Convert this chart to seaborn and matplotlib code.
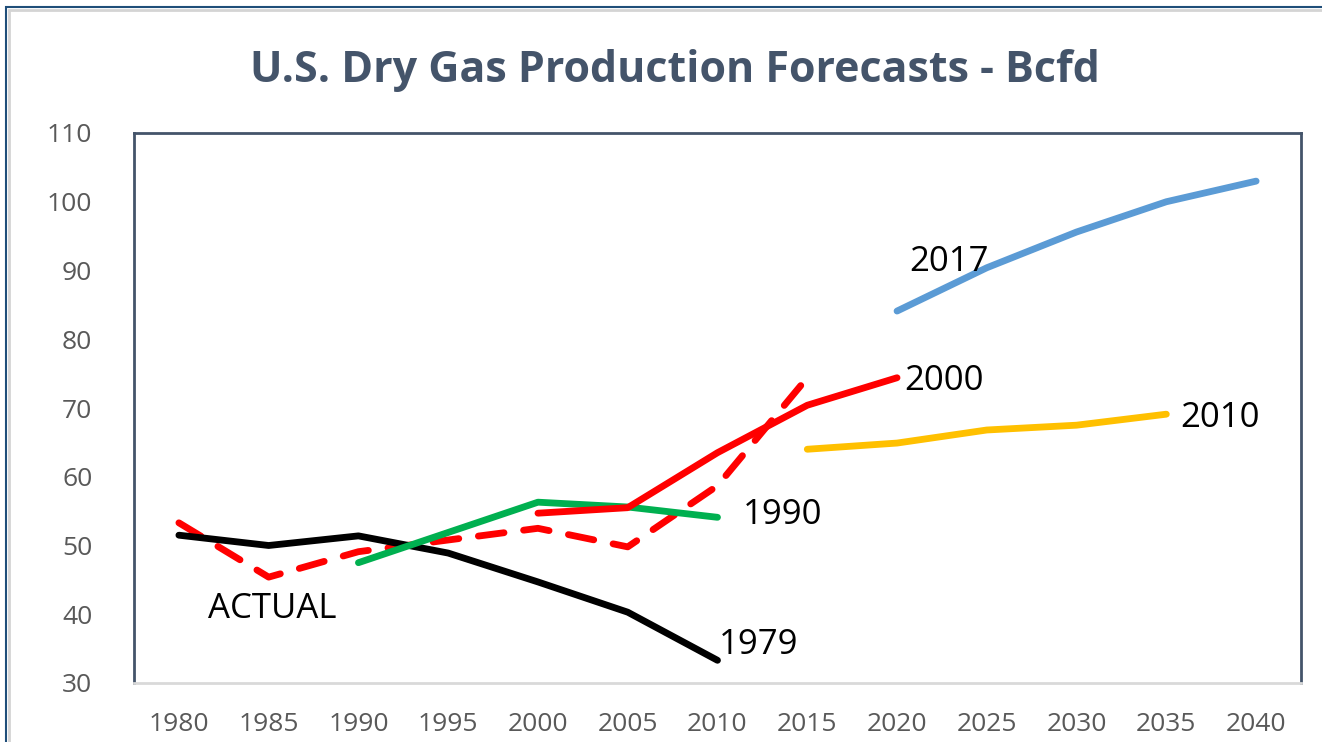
import numpy as np
import pandas as pd
import matplotlib
matplotlib.use('Agg')
import matplotlib.pyplot as plt
from matplotlib.patches import Rectangle
import seaborn as sns

# ==================== data ====================
years_actual = [1980, 1985, 1990, 1995, 2000, 2005, 2010, 2015]
vals_actual = [53.3, 45.4, 49.1, 50.8, 52.5, 49.8, 58.7, 74.4]

years_1979 = [1980, 1985, 1990, 1995, 2000, 2005, 2010]
vals_1979 = [51.5, 50.0, 51.4, 48.9, 44.7, 40.3, 33.3]

years_1990 = [1990, 2000, 2005, 2010]
vals_1990 = [47.5, 56.3, 55.6, 54.1]

years_2000 = [2000, 2005, 2010, 2015, 2020]
vals_2000 = [54.7, 55.5, 63.5, 70.4, 74.4]

years_2010 = [2015, 2020, 2025, 2030, 2035]
vals_2010 = [64.0, 64.9, 66.8, 67.5, 69.1]

years_2017 = [2020, 2025, 2030, 2035, 2040]
vals_2017 = [84.1, 90.4, 95.6, 100.0, 103.0]

x_ticks = list(range(1980, 2041, 5))
y_ticks = list(range(30, 111, 10))

series = {
    'ACTUAL': (years_actual, vals_actual),
    '1979': (years_1979, vals_1979),
    '1990': (years_1990, vals_1990),
    '2000': (years_2000, vals_2000),
    '2010': (years_2010, vals_2010),
    '2017': (years_2017, vals_2017),
}
df = pd.concat([pd.DataFrame({'year': yrs, 'bcfd': v, 'series': name})
                for name, (yrs, v) in series.items()], ignore_index=True)

palette = {'ACTUAL': '#FF0000', '1979': '#000000', '1990': '#00B050',
           '2000': '#FF0000', '2010': '#FFC000', '2017': '#5B9BD5'}
dashes = {'ACTUAL': (3.8, 2.9), '1979': '', '1990': '', '2000': '',
          '2010': '', '2017': ''}

# ==================== plot ====================
sns.set_theme(style='white')
plt.rcParams['font.family'] = ['Open Sans', 'DejaVu Sans']

fig = plt.figure(figsize=(13.22, 7.42), dpi=100)
ax = fig.add_axes([134 / 1322, 1 - 683 / 742, (1301 - 134) / 1322, (683 - 133) / 742])

sns.lineplot(data=df, x='year', y='bcfd', hue='series', style='series',
             palette=palette, dashes=dashes, linewidth=4.9, legend=False,
             sort=False, ax=ax)
for ln in ax.lines:
    ln.set_solid_capstyle('round')
    ln.set_dash_capstyle('round')
    ln.set_solid_joinstyle('round')

ax.set_xlim(1977.5, 2042.5)
ax.set_ylim(30, 110)
ax.set_xticks(x_ticks)
ax.set_yticks(y_ticks)
ax.set_xlabel('')
ax.set_ylabel('')
ax.tick_params(axis='both', length=0, labelsize=19, colors='#595959')
ax.tick_params(axis='y', pad=30)
ax.tick_params(axis='x', pad=21)

for side in ['left', 'top', 'right']:
    ax.spines[side].set_color('#44546A')
    ax.spines[side].set_linewidth(2)
ax.spines['bottom'].set_color('#D9D9D9')
ax.spines['bottom'].set_linewidth(2)

# line labels
lbl = dict(fontsize=25, color='black', va='center', ha='left')
ax.text(2020.7, 91.3, '2017', **lbl)
ax.text(2020.4, 74.0, '2000', **lbl)
ax.text(2035.8, 68.5, '2010', **lbl)
ax.text(2011.4, 54.4, '1990', **lbl)
ax.text(2010.1, 35.5, '1979', **lbl)
ax.text(1981.6, 40.7, 'ACTUAL', **lbl)

fig.text(675 / 1322, 1 - 71 / 742, 'U.S. Dry Gas Production Forecasts - Bcfd',
         ha='center', va='center', fontsize=31, fontweight='bold', color='#44546A')

# outer chart frame
fig.add_artist(Rectangle((6 / 1322, -0.1), 1.2, 1.1 - 7.5 / 742, transform=fig.transFigure,
                         fill=False, edgecolor='#1F4E79', linewidth=1.5))
fig.add_artist(Rectangle((8.5 / 1322, -0.1), 1.2, 1.1 - 10 / 742, transform=fig.transFigure,
                         fill=False, edgecolor='#D4D4D4', linewidth=2))

fig.savefig('out.png', dpi=100)
